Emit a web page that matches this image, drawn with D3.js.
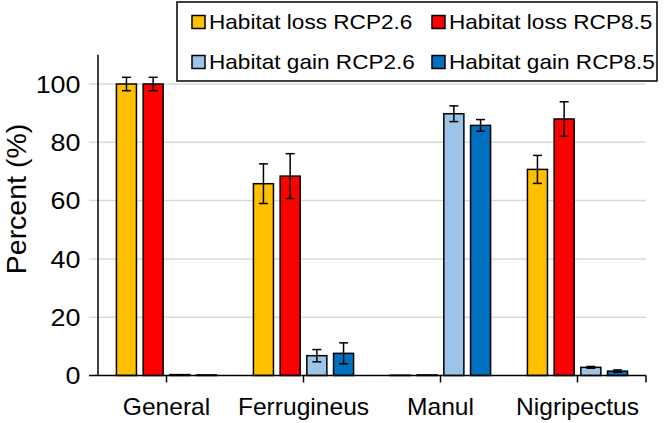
<!DOCTYPE html>
<html>
<head>
<meta charset="utf-8">
<script src="https://cdn.jsdelivr.net/npm/d3@7"></script>
<style>
  body { margin: 0; background: #fff; }
  text { font-family: "Liberation Sans", Arial, sans-serif; fill: #000; }
</style>
</head>
<body>
<script>
var w = 664,
    h = 423;

// data
var categories = ["General", "Ferrugineus", "Manul", "Nigripectus"];
var seriesNames = ["Habitat loss RCP2.6", "Habitat loss RCP8.5", "Habitat gain RCP2.6", "Habitat gain RCP8.5"];
var seriesColors = ["#FFC000", "#FF0000", "#9DC3E6", "#0070C0"];
var lossRcp26 = [100, 65.8, 0.1, 70.7];
var lossRcp85 = [100, 68.4, 0.2, 88.0];
var gainRcp26 = [0.3, 6.8, 89.8, 2.8];
var gainRcp85 = [0.2, 7.6, 85.8, 1.5];
var errLossRcp26 = [2.3, 6.8, 0, 4.8];
var errLossRcp85 = [2.3, 7.7, 0, 5.9];
var errGainRcp26 = [0, 2.1, 2.7, 0.3];
var errGainRcp85 = [0, 3.6, 2.0, 0.4];
var yTicks = [0, 20, 40, 60, 80, 100];

var values = [lossRcp26, lossRcp85, gainRcp26, gainRcp85];
var errors = [errLossRcp26, errLossRcp85, errGainRcp26, errGainRcp85];

var rows = [];
categories.forEach(function(c, i) {
  seriesNames.forEach(function(s, j) {
    rows.push({cat: c, series: s, color: seriesColors[j], value: values[j][i], err: errors[j][i]});
  });
});

var svg = d3.select("body").append("svg")
    .attr("width", w)
    .attr("height", h);

var x0 = d3.scaleBand().domain(categories).range([98, 646]);
var x1 = d3.scaleBand().domain(seriesNames).range([0, x0.bandwidth()])
    .paddingInner(0.25).paddingOuter(0.69);
var y = d3.scaleLinear().domain([0, 110]).range([375.5, 54.85]);

// gridlines (they also make the small tick marks left of the axis)
svg.append("g").selectAll("line.grid")
  .data(yTicks.filter(function(d) { return d > 0; }))
  .enter().append("line")
    .attr("class", "grid")
    .attr("x1", 89).attr("x2", 646)
    .attr("y1", function(d) { return y(d); })
    .attr("y2", function(d) { return y(d); })
    .style("stroke", "#d9d9d9")
    .style("stroke-width", 1.5);

// y tick labels
svg.append("g").selectAll("text")
  .data(yTicks)
  .enter().append("text")
    .attr("transform", function(d) { return "translate(80.5," + y(d) + ") scale(1.12,1)"; })
    .attr("dy", "0.36em")
    .attr("text-anchor", "end")
    .style("font-size", "24px")
    .text(function(d) { return d; });

// y axis line
svg.append("line")
    .attr("x1", 98).attr("x2", 98)
    .attr("y1", y(110)).attr("y2", y(0))
    .style("stroke", "#000").style("stroke-width", 1.5);

// bars
svg.append("g").selectAll("rect")
  .data(rows)
  .enter().append("rect")
    .attr("x", function(d) { return x0(d.cat) + x1(d.series); })
    .attr("width", x1.bandwidth())
    .attr("y", function(d) { return y(d.value); })
    .attr("height", function(d) { return y(0) - y(d.value); })
    .style("fill", function(d) { return d.color; })
    .style("stroke", "#000")
    .style("stroke-width", 1.5);

// error bars
var eb = svg.append("g").selectAll("g")
  .data(rows.filter(function(d) { return d.err > 0; }))
  .enter().append("g")
    .attr("transform", function(d) { return "translate(" + (x0(d.cat) + x1(d.series) + x1.bandwidth() / 2) + ",0)"; });

eb.append("line")
    .attr("y1", function(d) { return y(d.value + d.err); })
    .attr("y2", function(d) { return y(d.value - d.err); });
eb.append("line")
    .attr("x1", -4.5).attr("x2", 4.5)
    .attr("y1", function(d) { return y(d.value + d.err); })
    .attr("y2", function(d) { return y(d.value + d.err); });
eb.append("line")
    .attr("x1", -4.5).attr("x2", 4.5)
    .attr("y1", function(d) { return y(d.value - d.err); })
    .attr("y2", function(d) { return y(d.value - d.err); });
eb.selectAll("line").style("stroke", "#000").style("stroke-width", 1.5);

// x axis
svg.append("line")
    .attr("x1", 89).attr("x2", 646)
    .attr("y1", y(0)).attr("y2", y(0))
    .style("stroke", "#000").style("stroke-width", 1.5);

var xTicks = categories.map(function(c) { return x0(c) + x0.bandwidth() / 2; }).concat([646]);
svg.append("g").selectAll("line")
  .data(xTicks)
  .enter().append("line")
    .attr("x1", function(d) { return d; }).attr("x2", function(d) { return d; })
    .attr("y1", y(0)).attr("y2", y(0) + 7)
    .style("stroke", "#000").style("stroke-width", 1.5);

svg.append("g").selectAll("text")
  .data(categories)
  .enter().append("text")
    .attr("transform", function(d) { return "translate(" + (x0(d) + x0.bandwidth() / 2) + ",415) scale(1.07,1)"; })
    .attr("text-anchor", "middle")
    .style("font-size", "23px")
    .text(function(d) { return d; });

// y axis title
svg.append("text")
    .attr("transform", "translate(26,199) rotate(-90)")
    .attr("text-anchor", "middle")
    .style("font-size", "28.5px")
    .text("Percent (%)");

// legend
var legend = svg.append("g");
legend.append("rect")
    .attr("x", 177).attr("y", 2)
    .attr("width", 480).attr("height", 79)
    .style("fill", "#fff")
    .style("stroke", "#000")
    .style("stroke-width", 1.5);

var legendPos = [[192, 22], [432, 22], [192, 62], [432, 62]];
var items = legend.selectAll("g.item")
  .data(seriesNames)
  .enter().append("g")
    .attr("class", "item")
    .attr("transform", function(d, i) { return "translate(" + legendPos[i][0] + "," + legendPos[i][1] + ")"; });

items.append("rect")
    .attr("x", 0).attr("y", -6.5)
    .attr("width", 13).attr("height", 13)
    .style("fill", function(d, i) { return seriesColors[i]; })
    .style("stroke", "#000")
    .style("stroke-width", 1.5);

items.append("text")
    .attr("transform", "translate(17,7.3) scale(1.13,1)")
    .style("font-size", "20px")
    .text(function(d) { return d; });
</script>
</body>
</html>
